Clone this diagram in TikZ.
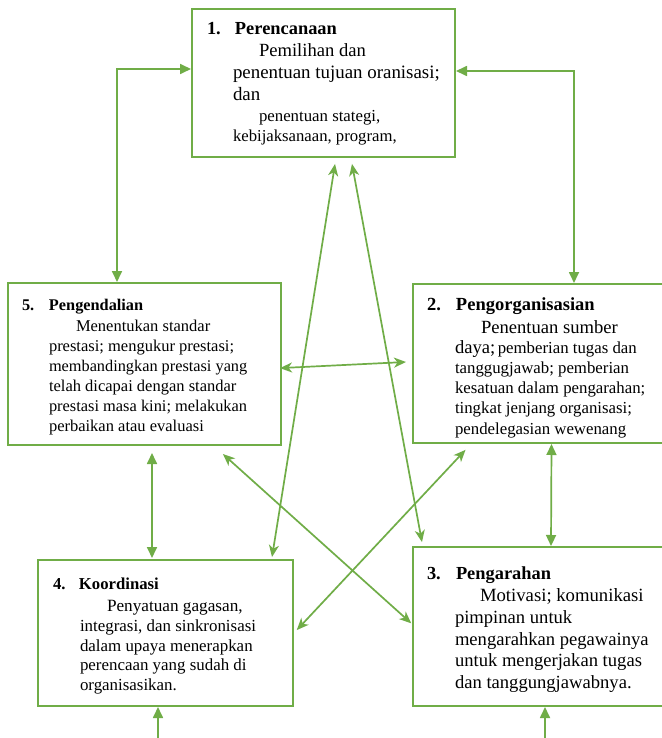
\documentclass[tikz,border=0pt]{standalone}
\usepackage{fontspec}
\setmainfont{Liberation Serif}
\usetikzlibrary{arrows.meta}
\definecolor{grn}{RGB}{112,173,71}
\newcommand\fsz[1]{\fontsize{#1pt}{#1pt}\selectfont}
\begin{document}
\begin{tikzpicture}[x=1pt,y=-1pt,
  box/.style={draw=grn, line width=2pt, rectangle, inner sep=0pt, fill=none},
  txt/.style={anchor=base west, inner sep=0pt, outer sep=0pt},
  conn/.style={draw=grn, line width=1.7pt},
  tri/.style={conn, {Triangle[length=11pt,width=10pt]}-{Triangle[length=11pt,width=10pt]}},
  stl/.style={conn, {Stealth[length=12pt,width=10pt,inset=3.5pt]}-{Stealth[length=12pt,width=10pt,inset=3.5pt]}},
  single/.style={conn, -{Triangle[length=11pt,width=10pt]}}]
\useasboundingbox (0,0) rectangle (661,738);
\fill[white] (0,0) rectangle (661,738);

% boxes
\node[box, minimum width=263pt, minimum height=148pt] (b1) at (323.5,83) {};
\node[box, minimum width=273pt, minimum height=162pt] (b5) at (144.5,364) {};
\node[box, minimum width=250pt, minimum height=159pt] (b2) at (538,363.5) {};
\node[box, minimum width=255pt, minimum height=146pt] (b4) at (165.5,633) {};
\node[box, minimum width=250pt, minimum height=159pt] (b3) at (538,626.5) {};

% box 1 text
\node[txt] (t1a) at (207,35) {\fsz{18.4}\bfseries\makebox[28pt][l]{1.}Perencanaan};
\node[txt] (t1b) at (259,57) {\fsz{18.6}Pemilihan dan};
\node[txt] (t1c) at (233,79) {\fsz{18.9}penentuan tujuan oranisasi;};
\node[txt] (t1d) at (233,101) {\fsz{18.9}dan};
\node[txt] (t1e) at (259,122) {\fsz{16.8}penentuan stategi,};
\node[txt] (t1f) at (233,142) {\fsz{16.7}kebijaksanaan, program,};

% box 5 text
\node[txt] (t5a) at (22,310) {\fsz{16.3}\bfseries\makebox[27pt][l]{5.}Pengendalian};
\node[txt] (t5b) at (76,331) {\fsz{16.5}Menentukan standar};
\node[txt] (t5c) at (49,351.5) {\fsz{16.5}prestasi; mengukur prestasi;};
\node[txt] (t5d) at (49,371.5) {\fsz{16.3}membandingkan prestasi yang};
\node[txt] (t5e) at (49,391.5) {\fsz{16.5}telah dicapai dengan standar};
\node[txt] (t5f) at (49,411.5) {\fsz{16.4}prestasi masa kini; melakukan};
\node[txt] (t5g) at (49,431) {\fsz{16.5}perbaikan atau evaluasi};

% box 2 text (last line cut off at its baseline)
\begin{scope}
\clip (b2.north west) rectangle ([yshift=7pt]b2.south east);
\node[txt] (t2a) at (427,310) {\fsz{18.5}\bfseries\makebox[29pt][l]{2.}Pengorganisasian};
\node[txt] (t2b) at (481,333) {\fsz{18.6}Penentuan sumber};
\node[txt] (t2c) at (455,353) {{\fsz{18.6}daya;} \fsz{16.8}pemberian tugas dan};
\node[txt] (t2d) at (455,373) {\fsz{16.8}tanggugjawab; pemberian};
\node[txt] (t2e) at (455,393) {\fsz{16.8}kesatuan dalam pengarahan;};
\node[txt] (t2f) at (455,413) {\fsz{16.8}tingkat jenjang organisasi;};
\node[txt] (t2g) at (455,434) {\fsz{16.8}pendelegasian wewenang};
\end{scope}

% box 4 text
\node[txt] (t4a) at (53,589) {\fsz{16.7}\bfseries\makebox[26pt][l]{4.}Koordinasi};
\node[txt] (t4b) at (107,611) {\fsz{17.2}Penyatuan gagasan,};
\node[txt] (t4c) at (80,631) {\fsz{16.9}integrasi, dan sinkronisasi};
\node[txt] (t4d) at (80,651) {\fsz{16.9}dalam upaya menerapkan};
\node[txt] (t4e) at (80,670.5) {\fsz{16.9}perencaan yang sudah di};
\node[txt] (t4f) at (80,690) {\fsz{16.9}organisasikan.};

% box 3 text
\node[txt] (t3a) at (427,579) {\fsz{18.4}\bfseries\makebox[29pt][l]{3.}Pengarahan};
\node[txt] (t3b) at (480,601.5) {\fsz{18.7}Motivasi; komunikasi};
\node[txt] (t3c) at (455,623) {\fsz{18.6}pimpinan untuk};
\node[txt] (t3d) at (455,645) {\fsz{18.6}mengarahkan pegawainya};
\node[txt] (t3e) at (455,666.5) {\fsz{18.6}untuk mengerjakan tugas};
\node[txt] (t3f) at (455,688) {\fsz{18.6}dan tanggungjawabnya.};

% connectors
\draw[tri] ([yshift=14pt]b1.west) -| ([xshift=-27.5pt]b5.north);
\draw[tri] ([yshift=12pt]b1.east) -| ([xshift=36pt]b2.north);
\draw[stl, shorten <=6pt, shorten >=2pt] ([xshift=12.5pt]b1.south) -- ([xshift=106.2pt]b4.north);
\draw[stl, shorten <=6pt, shorten >=4pt] ([xshift=27.4pt]b1.south) -- ([xshift=-115.3pt]b3.north);
\draw[stl, shorten <=-2pt, shorten >=6pt] ([yshift=-4pt]b5.east) -- ([yshift=1.8pt]b2.west);
\draw[tri, shorten <=7pt, shorten >=1pt] ([xshift=7.5pt]b5.south) -- ([xshift=-13.5pt]b4.north);
\draw[stl, shorten <=12pt, shorten >=1pt] ([xshift=69.5pt]b5.south) -- ([yshift=2.5pt]b3.west);
\draw[stl, shorten <=8pt, shorten >=4pt] ([xshift=-67pt]b2.south) -- (b4.east);
\draw[tri] ([xshift=13.5pt]b2.south) -- ([xshift=13pt]b3.north);
\coordinate (c4) at (158,745);
\coordinate (c3) at (545,745);
\draw[single] (c4) -- ([xshift=-7.5pt]b4.south);
\draw[single] (c3) -- ([xshift=7pt]b3.south);
\end{tikzpicture}
\end{document}
